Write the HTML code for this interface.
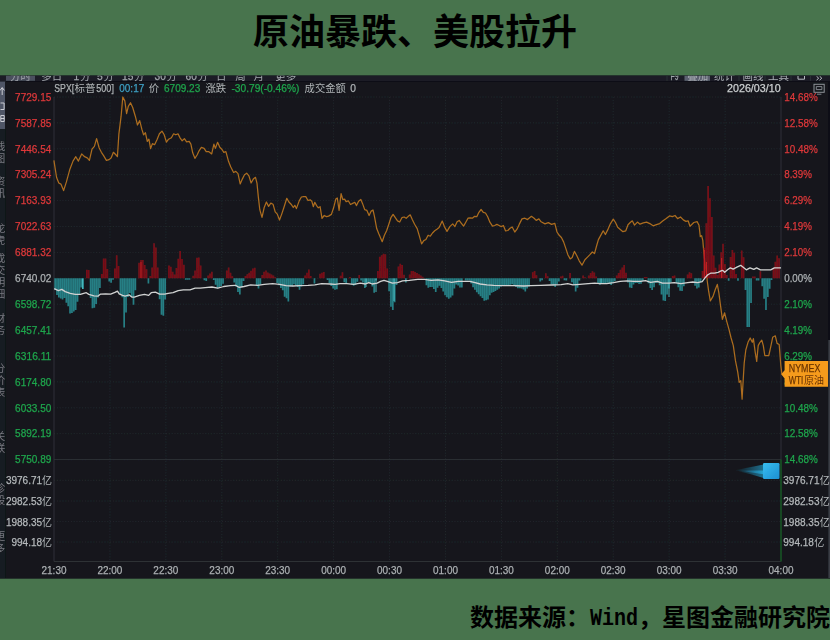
<!DOCTYPE html>
<html><head><meta charset="utf-8"><title>chart</title>
<style>html,body{margin:0;padding:0;background:#48744d}body{width:830px;height:640px;overflow:hidden}svg{display:block}text{font-family:"Liberation Sans","Noto Sans CJK SC",sans-serif}</style></head>
<body>
<svg width="830" height="640" viewBox="0 0 830 640">
<rect x="0" y="0" width="830" height="640" fill="#48744d"/>
<defs><filter id="soft" x="0" y="0" width="830" height="640" filterUnits="userSpaceOnUse"><feGaussianBlur stdDeviation="0.42"/></filter><clipPath id="chartclip"><rect x="0" y="75.6" width="830" height="502.8"/></clipPath></defs>
<rect x="0" y="75.6" width="830" height="502.8" fill="#14181d"/>
<g clip-path="url(#chartclip)"><g filter="url(#soft)">
<rect x="-5" y="70" width="840" height="515" fill="#14181d"/>
<rect x="0" y="75.6" width="830" height="5.6" fill="#1c1f26"/>
<rect x="6" y="75.6" width="29" height="5.2" fill="#4b505f"/>
<rect x="684.5" y="75.6" width="25.5" height="5.2" fill="#5b6170"/>
<rect x="0" y="81.2" width="830" height="0.8" fill="#0e1014"/>
<defs><clipPath id="cc"><rect x="0" y="75.6" width="830" height="6"/></clipPath></defs>
<g clip-path="url(#cc)">
<text x="9.9" y="79.8" fill="#a3a6ad" font-size="10.5" text-anchor="start">分时</text>
<text x="41.2" y="79.8" fill="#a3a6ad" font-size="10.5" text-anchor="start">多日</text>
<text x="73.5" y="79.8" fill="#a3a6ad" stroke="#a3a6ad" stroke-width="0.25" font-size="11" text-anchor="start" textLength="5.7" lengthAdjust="spacingAndGlyphs">1</text>
<text x="79.9" y="79.8" fill="#a3a6ad" font-size="10.5" text-anchor="start">分</text>
<text x="97.0" y="79.8" fill="#a3a6ad" stroke="#a3a6ad" stroke-width="0.25" font-size="11" text-anchor="start" textLength="5.7" lengthAdjust="spacingAndGlyphs">5</text>
<text x="103.4" y="79.8" fill="#a3a6ad" font-size="10.5" text-anchor="start">分</text>
<text x="122.0" y="79.8" fill="#a3a6ad" stroke="#a3a6ad" stroke-width="0.25" font-size="11" text-anchor="start" textLength="11.3" lengthAdjust="spacingAndGlyphs">15</text>
<text x="134.0" y="79.8" fill="#a3a6ad" font-size="10.5" text-anchor="start">分</text>
<text x="154.5" y="79.8" fill="#a3a6ad" stroke="#a3a6ad" stroke-width="0.25" font-size="11" text-anchor="start" textLength="11.3" lengthAdjust="spacingAndGlyphs">30</text>
<text x="166.5" y="79.8" fill="#a3a6ad" font-size="10.5" text-anchor="start">分</text>
<text x="185.5" y="79.8" fill="#a3a6ad" stroke="#a3a6ad" stroke-width="0.25" font-size="11" text-anchor="start" textLength="11.3" lengthAdjust="spacingAndGlyphs">60</text>
<text x="197.5" y="79.8" fill="#a3a6ad" font-size="10.5" text-anchor="start">分</text>
<text x="216.1" y="79.8" fill="#a3a6ad" font-size="10.5" text-anchor="start">日</text>
<text x="235.3" y="79.8" fill="#a3a6ad" font-size="10.5" text-anchor="start">周</text>
<text x="253.4" y="79.8" fill="#a3a6ad" font-size="10.5" text-anchor="start">月</text>
<text x="275.3" y="79.8" fill="#a3a6ad" font-size="10.5" text-anchor="start">更多</text>
<text x="670.5" y="79.8" fill="#a3a6ad" stroke="#a3a6ad" stroke-width="0.25" font-size="11" text-anchor="start" textLength="8.0" lengthAdjust="spacingAndGlyphs">F9</text>
<text x="687.2" y="79.8" fill="#a9acb3" font-size="10.5" text-anchor="start">叠加</text>
<text x="714.0" y="79.8" fill="#a9acb3" font-size="10.5" text-anchor="start">统计</text>
<text x="742.4" y="79.8" fill="#a9acb3" font-size="10.5" text-anchor="start">画线</text>
<text x="768.0" y="79.8" fill="#a9acb3" font-size="10.5" text-anchor="start">工具</text>
<path d="M798 76v3.2h6.5v-3.2M816.5 76.2l2.2 2-2.2 2M819.6 76.2l2.2 2-2.2 2" stroke="#b9bcc3" stroke-width="1" fill="none"/>
</g>
<path d="M667 76v4.8M739 76v4.8M765 76v4.8M791 76v4.8M810.5 76v4.8" stroke="#30333a" stroke-width="0.8" fill="none"/>
<rect x="0" y="82" width="5.3" height="496.3" fill="#181a20"/>
<rect x="0" y="81.5" width="5.3" height="47.5" fill="#505566"/>
<rect x="5.3" y="82" width="0.8" height="496.3" fill="#101216"/>
<path d="M0 90.5l2.2-3 2.2 3M2.2 88v7M0.5 103h3.6v6.5h-3.6M0.8 115.5h3.4v6h-3.4zM0.8 118.5h3.4" stroke="#dfe1e6" stroke-width="1" fill="none" opacity="0.85"/>
<defs><clipPath id="sbc"><rect x="0" y="82" width="5.2" height="496"/></clipPath></defs>
<g clip-path="url(#sbc)" opacity="0.7">
<text x="-5.3" y="150.0" fill="#9fa2a9" font-size="10.5" text-anchor="start">线</text>
<text x="-5.3" y="162.0" fill="#9fa2a9" font-size="10.5" text-anchor="start">图</text>
<text x="-5.3" y="185.0" fill="#9fa2a9" font-size="10.5" text-anchor="start">资</text>
<text x="-5.3" y="197.2" fill="#9fa2a9" font-size="10.5" text-anchor="start">讯</text>
<text x="-5.3" y="231.9" fill="#9fa2a9" font-size="10.5" text-anchor="start">龙</text>
<text x="-5.3" y="244.0" fill="#9fa2a9" font-size="10.5" text-anchor="start">虎</text>
<text x="-5.3" y="262.1" fill="#9fa2a9" font-size="10.5" text-anchor="start">成</text>
<text x="-5.3" y="274.0" fill="#9fa2a9" font-size="10.5" text-anchor="start">交</text>
<text x="-5.3" y="286.1" fill="#9fa2a9" font-size="10.5" text-anchor="start">明</text>
<text x="-5.3" y="297.9" fill="#9fa2a9" font-size="10.5" text-anchor="start">细</text>
<text x="-5.3" y="322.0" fill="#9fa2a9" font-size="10.5" text-anchor="start">财</text>
<text x="-5.3" y="334.0" fill="#9fa2a9" font-size="10.5" text-anchor="start">务</text>
<text x="-5.3" y="372.1" fill="#9fa2a9" font-size="10.5" text-anchor="start">分</text>
<text x="-5.3" y="384.1" fill="#9fa2a9" font-size="10.5" text-anchor="start">价</text>
<text x="-5.3" y="396.0" fill="#9fa2a9" font-size="10.5" text-anchor="start">表</text>
<text x="-5.3" y="440.0" fill="#9fa2a9" font-size="10.5" text-anchor="start">关</text>
<text x="-5.3" y="452.1" fill="#9fa2a9" font-size="10.5" text-anchor="start">联</text>
<text x="-5.3" y="492.0" fill="#9fa2a9" font-size="10.5" text-anchor="start">诊</text>
<text x="-5.3" y="504.0" fill="#9fa2a9" font-size="10.5" text-anchor="start">股</text>
<text x="-5.3" y="540.0" fill="#9fa2a9" font-size="10.5" text-anchor="start">更</text>
<text x="-5.3" y="552.0" fill="#9fa2a9" font-size="10.5" text-anchor="start">多</text>
</g>
<rect x="828.3" y="82" width="1.7" height="496" fill="#0d0f12"/>
<rect x="828.3" y="340" width="1.7" height="238" fill="#3a3d44"/>
<path d="M54.0 97.00H781.0M54.0 122.90H781.0M54.0 148.80H781.0M54.0 174.70H781.0M54.0 200.60H781.0M54.0 226.50H781.0M54.0 252.40H781.0M54.0 278.30H781.0M54.0 304.20H781.0M54.0 330.10H781.0M54.0 356.00H781.0M54.0 381.90H781.0M54.0 407.80H781.0M54.0 433.70H781.0M54.0 459.60H781.0M54.0 480.30H781.0M54.0 501.00H781.0M54.0 521.60H781.0M54.0 542.00H781.0" stroke="#23262c" stroke-width="1" stroke-dasharray="1.2 1.6" fill="none"/>
<path d="M109.92 97.0V561.5M165.85 97.0V561.5M221.77 97.0V561.5M277.69 97.0V561.5M333.62 97.0V561.5M389.54 97.0V561.5M445.46 97.0V561.5M501.38 97.0V561.5M557.31 97.0V561.5M613.23 97.0V561.5M669.15 97.0V561.5M725.08 97.0V561.5" stroke="#23262c" stroke-width="1" stroke-dasharray="1.2 1.6" fill="none"/>
<path d="M54.0 97.0V561.5M781.0 97.0V561.5M54.0 459.6H781.0M54.0 561.5H781.0" stroke="#2e3136" stroke-width="1" fill="none"/>
<path d="M781.0 459.6V561.5" stroke="#0f5f22" stroke-width="1.2" fill="none"/>
<polyline points="53.9,160.4 56.6,177.5 58.8,183.0 60.9,184.1 63.6,190.6 66.4,181.9 69.7,169.8 73.0,161.1 75.8,156.7 78.4,161.1 81.7,153.9 84.6,156.7 87.2,157.8 89.4,160.4 92.0,149.1 94.4,146.4 96.6,138.6 99.2,148.0 101.4,152.3 103.6,155.6 106.4,160.4 109.1,159.6 111.2,157.8 113.4,152.3 115.6,154.5 117.4,156.7 118.9,133.8 121.1,116.2 122.8,97.0 124.8,100.9 126.6,113.6 128.3,106.4 130.5,102.7 132.7,107.5 135.3,116.2 137.5,125.0 139.7,120.6 141.9,129.4 143.6,134.8 145.4,132.7 147.3,141.4 148.9,139.2 150.6,148.6 152.4,143.6 154.6,144.7 157.2,139.2 159.4,133.8 162.0,131.1 164.2,134.8 166.4,142.1 168.6,139.2 171.4,137.7 173.6,133.8 175.8,134.8 178.0,133.8 180.2,138.1 182.2,140.8 184.4,138.6 186.6,141.9 189.2,141.4 190.9,144.1 192.7,152.8 194.9,158.3 197.1,155.0 199.2,150.6 201.4,147.3 204.1,148.4 206.2,151.7 208.9,151.7 211.7,153.9 213.9,144.1 215.4,148.4 217.6,142.3 219.8,147.3 222.0,149.5 223.8,152.4 225.9,151.7 228.6,161.6 230.8,167.0 233.6,172.5 235.8,171.4 238.0,173.6 240.2,183.9 242.3,179.1 244.5,174.7 246.7,173.2 248.9,175.8 251.1,183.0 253.3,179.1 255.5,177.3 257.0,183.4 258.3,196.6 259.8,209.7 262.0,217.3 264.2,207.5 266.4,202.0 268.6,206.4 270.8,203.1 273.0,204.2 275.2,211.9 277.3,214.1 279.5,220.0 281.7,214.1 283.9,207.5 286.8,198.3 288.9,202.0 291.1,204.2 293.3,207.5 294.8,205.3 296.4,208.6 299.2,200.9 301.4,197.0 303.6,196.6 305.8,196.6 308.0,200.5 310.2,199.8 311.8,201.2 313.3,206.7 314.8,202.3 316.6,205.6 318.3,207.8 320.1,206.7 322.0,218.3 324.2,215.5 326.4,216.6 328.6,216.1 331.4,214.4 333.6,207.8 335.8,199.1 337.3,198.0 339.1,210.4 341.1,193.6 342.8,199.5 344.6,199.1 346.1,201.7 348.3,200.8 350.5,204.5 352.7,203.4 354.8,202.3 356.4,205.6 358.6,201.2 360.8,199.5 362.5,203.4 364.7,209.6 366.9,210.4 369.1,215.5 371.2,211.1 373.0,210.0 374.5,216.6 376.7,228.6 378.9,234.1 382.2,241.7 384.4,235.2 386.6,230.8 388.8,224.2 390.9,217.7 393.1,214.4 395.3,217.7 397.5,220.9 399.7,222.0 401.9,217.7 404.1,217.0 406.2,218.3 408.0,216.6 410.2,214.8 412.4,219.8 414.6,224.2 417.2,228.6 419.4,236.2 421.6,243.9 423.8,240.6 425.9,239.5 428.1,235.2 430.3,236.2 432.5,233.0 434.7,230.8 436.9,229.2 439.1,227.5 442.2,221.1 444.4,226.6 447.0,231.4 449.8,226.6 452.7,223.9 454.9,226.6 457.1,221.8 459.2,220.4 461.4,223.3 463.6,226.1 465.8,222.2 468.0,218.2 470.2,217.8 472.4,218.2 474.6,216.3 476.8,216.7 478.9,212.3 481.1,209.5 483.3,212.3 485.5,213.0 487.7,216.7 489.9,222.2 492.5,226.1 494.7,225.5 496.9,224.4 499.1,225.5 501.2,226.6 503.4,225.5 505.6,230.9 507.8,230.5 510.0,228.3 512.2,227.0 514.8,232.0 517.0,229.2 519.2,224.4 522.0,218.9 524.9,218.2 527.5,219.6 531.4,216.3 534.1,218.2 536.2,220.4 538.9,218.9 541.1,221.8 545.0,223.9 548.3,222.6 551.6,224.4 554.8,223.3 557.0,232.0 559.2,235.3 561.4,237.5 563.6,241.9 565.8,248.4 568.0,255.0 570.2,258.9 572.2,257.5 574.4,251.4 576.6,255.3 579.2,260.8 582.0,265.2 584.9,259.7 587.5,257.1 589.7,254.9 592.3,252.0 594.5,253.6 596.7,245.5 598.4,239.6 600.6,235.6 603.2,230.8 605.4,234.5 608.3,228.6 610.5,223.6 613.3,219.2 615.5,222.5 617.7,227.3 620.3,229.5 622.9,231.7 625.8,230.8 628.0,224.7 630.2,222.5 632.3,220.8 634.5,225.1 637.4,222.1 640.0,224.2 643.3,222.9 646.6,222.1 649.8,223.6 653.1,225.8 656.4,224.7 659.7,223.6 663.0,220.8 666.2,218.6 669.5,215.9 672.4,216.6 675.0,215.5 677.6,218.6 680.5,217.0 683.3,219.9 685.9,221.4 688.1,220.8 690.0,226.3 693.8,222.5 697.1,221.6 699.0,225.3 700.3,236.6 701.6,235.7 702.8,240.4 703.5,248.8 704.6,260.1 705.9,269.4 707.3,276.9 707.1,280.0 708.6,290.9 710.3,300.8 713.0,296.4 715.2,289.8 717.3,284.4 718.9,293.1 720.6,306.2 722.4,319.4 724.6,312.8 726.8,321.6 728.9,329.2 731.1,338.0 733.3,345.6 735.5,360.9 737.7,371.9 739.2,382.4 740.8,380.6 742.1,399.2 742.9,385.0 744.2,363.1 745.8,350.0 748.0,342.3 750.2,338.0 752.3,342.3 753.4,338.6 755.2,352.2 756.7,361.4 758.2,345.6 760.0,342.3 761.8,340.2 763.3,345.6 764.8,355.5 767.0,355.5 768.8,355.5 770.5,347.8 772.7,337.3 775.3,335.8 777.1,343.4 779.2,344.5 780.8,365.3 781.9,374.1" fill="none" stroke="#ad6c20" stroke-width="1.25" stroke-linejoin="round"/>
<path d="M54.28 278.3V289.9h1.71V278.3zM56.15 278.3V295.0h1.71V278.3zM58.01 278.3V297.5h1.71V278.3zM59.88 278.3V298.6h1.71V278.3zM61.74 278.3V299.6h1.71V278.3zM63.61 278.3V298.1h1.71V278.3zM65.47 278.3V302.7h1.71V278.3zM67.34 278.3V306.3h1.71V278.3zM69.21 278.3V313.4h1.71V278.3zM71.07 278.3V312.9h1.71V278.3zM72.94 278.3V311.6h1.71V278.3zM74.80 278.3V309.9h1.71V278.3zM76.67 278.3V301.8h1.71V278.3zM78.53 278.3V294.3h1.71V278.3zM80.40 278.3V287.5h1.71V278.3zM82.27 278.3V288.9h1.71V278.3zM89.73 278.3V298.1h1.71V278.3zM91.59 278.3V308.3h1.71V278.3zM93.46 278.3V307.7h1.71V278.3zM95.33 278.3V303.9h1.71V278.3zM97.19 278.3V297.6h1.71V278.3zM99.06 278.3V288.0h1.71V278.3zM108.39 278.3V281.6h1.71V278.3zM110.25 278.3V282.8h1.71V278.3zM112.12 278.3V279.8h1.71V278.3zM119.58 278.3V294.5h1.71V278.3zM121.45 278.3V297.3h1.71V278.3zM123.31 278.3V327.5h1.71V278.3zM125.18 278.3V312.4h1.71V278.3zM127.04 278.3V296.9h1.71V278.3zM128.91 278.3V293.1h1.71V278.3zM130.77 278.3V296.9h1.71V278.3zM132.64 278.3V304.7h1.71V278.3zM134.51 278.3V290.2h1.71V278.3zM147.57 278.3V283.6h1.71V278.3zM158.76 278.3V299.2h1.71V278.3zM160.62 278.3V314.7h1.71V278.3zM162.49 278.3V315.7h1.71V278.3zM164.36 278.3V299.4h1.71V278.3zM184.88 278.3V279.8h1.71V278.3zM186.74 278.3V279.8h1.71V278.3zM188.61 278.3V279.8h1.71V278.3zM203.54 278.3V280.2h1.71V278.3zM205.40 278.3V281.1h1.71V278.3zM212.86 278.3V280.0h1.71V278.3zM214.73 278.3V284.7h1.71V278.3zM216.60 278.3V288.5h1.71V278.3zM218.46 278.3V286.9h1.71V278.3zM220.33 278.3V286.0h1.71V278.3zM222.19 278.3V283.7h1.71V278.3zM233.39 278.3V282.4h1.71V278.3zM235.25 278.3V286.7h1.71V278.3zM237.12 278.3V292.1h1.71V278.3zM238.98 278.3V294.6h1.71V278.3zM240.85 278.3V287.4h1.71V278.3zM242.72 278.3V281.0h1.71V278.3zM255.78 278.3V285.7h1.71V278.3zM257.64 278.3V288.5h1.71V278.3zM259.51 278.3V284.5h1.71V278.3zM276.30 278.3V283.0h1.71V278.3zM278.16 278.3V285.3h1.71V278.3zM280.03 278.3V288.1h1.71V278.3zM281.90 278.3V290.3h1.71V278.3zM283.76 278.3V296.8h1.71V278.3zM285.63 278.3V298.3h1.71V278.3zM287.49 278.3V301.6h1.71V278.3zM289.36 278.3V286.5h1.71V278.3zM291.22 278.3V286.3h1.71V278.3zM293.09 278.3V284.3h1.71V278.3zM294.96 278.3V285.2h1.71V278.3zM296.82 278.3V287.1h1.71V278.3zM298.69 278.3V289.7h1.71V278.3zM300.55 278.3V286.4h1.71V278.3zM302.42 278.3V284.3h1.71V278.3zM313.61 278.3V283.6h1.71V278.3zM326.67 278.3V279.9h1.71V278.3zM328.54 278.3V283.0h1.71V278.3zM330.40 278.3V286.1h1.71V278.3zM332.27 278.3V288.6h1.71V278.3zM334.13 278.3V289.8h1.71V278.3zM336.00 278.3V289.3h1.71V278.3zM343.46 278.3V282.3h1.71V278.3zM345.33 278.3V283.4h1.71V278.3zM350.93 278.3V284.4h1.71V278.3zM352.79 278.3V285.7h1.71V278.3zM354.66 278.3V285.0h1.71V278.3zM356.52 278.3V281.7h1.71V278.3zM360.25 278.3V280.6h1.71V278.3zM362.12 278.3V282.4h1.71V278.3zM363.99 278.3V288.0h1.71V278.3zM365.85 278.3V283.7h1.71V278.3zM367.72 278.3V282.4h1.71V278.3zM369.58 278.3V283.9h1.71V278.3zM371.45 278.3V286.4h1.71V278.3zM373.31 278.3V292.8h1.71V278.3zM375.18 278.3V280.6h1.71V278.3zM388.24 278.3V291.2h1.71V278.3zM390.11 278.3V306.7h1.71V278.3zM391.97 278.3V310.1h1.71V278.3zM393.84 278.3V302.2h1.71V278.3zM395.70 278.3V284.9h1.71V278.3zM405.03 278.3V282.5h1.71V278.3zM425.55 278.3V285.3h1.71V278.3zM427.42 278.3V287.7h1.71V278.3zM429.29 278.3V287.1h1.71V278.3zM431.15 278.3V286.9h1.71V278.3zM433.02 278.3V288.9h1.71V278.3zM434.88 278.3V291.9h1.71V278.3zM436.75 278.3V287.7h1.71V278.3zM438.61 278.3V285.8h1.71V278.3zM440.48 278.3V287.9h1.71V278.3zM442.35 278.3V291.4h1.71V278.3zM444.21 278.3V295.3h1.71V278.3zM446.08 278.3V297.2h1.71V278.3zM447.94 278.3V298.7h1.71V278.3zM449.81 278.3V297.4h1.71V278.3zM451.67 278.3V295.5h1.71V278.3zM453.54 278.3V288.6h1.71V278.3zM455.41 278.3V284.5h1.71V278.3zM457.27 278.3V285.6h1.71V278.3zM459.14 278.3V287.5h1.71V278.3zM461.00 278.3V287.6h1.71V278.3zM464.73 278.3V280.6h1.71V278.3zM466.60 278.3V280.6h1.71V278.3zM468.47 278.3V280.6h1.71V278.3zM470.33 278.3V283.4h1.71V278.3zM472.20 278.3V287.2h1.71V278.3zM474.06 278.3V289.7h1.71V278.3zM475.93 278.3V292.2h1.71V278.3zM477.79 278.3V294.3h1.71V278.3zM479.66 278.3V296.2h1.71V278.3zM481.53 278.3V298.0h1.71V278.3zM483.39 278.3V300.7h1.71V278.3zM485.26 278.3V300.3h1.71V278.3zM487.12 278.3V299.5h1.71V278.3zM488.99 278.3V295.2h1.71V278.3zM490.85 278.3V292.7h1.71V278.3zM492.72 278.3V291.9h1.71V278.3zM494.59 278.3V290.9h1.71V278.3zM496.45 278.3V289.7h1.71V278.3zM498.32 278.3V288.4h1.71V278.3zM500.18 278.3V286.7h1.71V278.3zM502.05 278.3V285.9h1.71V278.3zM503.91 278.3V285.6h1.71V278.3zM505.78 278.3V285.4h1.71V278.3zM507.65 278.3V285.1h1.71V278.3zM509.51 278.3V284.8h1.71V278.3zM511.38 278.3V284.2h1.71V278.3zM513.24 278.3V285.1h1.71V278.3zM515.11 278.3V286.9h1.71V278.3zM516.97 278.3V288.2h1.71V278.3zM518.84 278.3V288.2h1.71V278.3zM520.71 278.3V288.5h1.71V278.3zM522.57 278.3V289.4h1.71V278.3zM524.44 278.3V291.5h1.71V278.3zM526.30 278.3V288.5h1.71V278.3zM528.17 278.3V286.5h1.71V278.3zM539.36 278.3V281.6h1.71V278.3zM541.23 278.3V280.3h1.71V278.3zM548.69 278.3V281.1h1.71V278.3zM550.56 278.3V284.3h1.71V278.3zM552.42 278.3V285.5h1.71V278.3zM554.29 278.3V287.0h1.71V278.3zM556.15 278.3V284.6h1.71V278.3zM558.02 278.3V281.5h1.71V278.3zM563.62 278.3V280.3h1.71V278.3zM565.48 278.3V280.5h1.71V278.3zM571.08 278.3V282.3h1.71V278.3zM572.94 278.3V285.0h1.71V278.3zM574.81 278.3V291.6h1.71V278.3zM576.68 278.3V287.8h1.71V278.3zM578.54 278.3V280.5h1.71V278.3zM597.20 278.3V283.0h1.71V278.3zM599.06 278.3V284.8h1.71V278.3zM600.93 278.3V283.6h1.71V278.3zM602.80 278.3V283.4h1.71V278.3zM604.66 278.3V283.4h1.71V278.3zM606.53 278.3V282.7h1.71V278.3zM608.39 278.3V283.6h1.71V278.3zM610.26 278.3V284.9h1.71V278.3zM612.12 278.3V283.2h1.71V278.3zM613.99 278.3V281.0h1.71V278.3zM627.05 278.3V282.5h1.71V278.3zM628.92 278.3V287.4h1.71V278.3zM630.78 278.3V288.1h1.71V278.3zM632.65 278.3V284.6h1.71V278.3zM634.51 278.3V282.9h1.71V278.3zM636.38 278.3V282.9h1.71V278.3zM638.24 278.3V283.9h1.71V278.3zM640.11 278.3V283.7h1.71V278.3zM641.98 278.3V280.9h1.71V278.3zM647.57 278.3V283.3h1.71V278.3zM649.44 278.3V288.1h1.71V278.3zM651.30 278.3V290.1h1.71V278.3zM653.17 278.3V287.2h1.71V278.3zM655.04 278.3V283.1h1.71V278.3zM656.90 278.3V282.7h1.71V278.3zM658.77 278.3V285.2h1.71V278.3zM660.63 278.3V294.5h1.71V278.3zM662.50 278.3V300.4h1.71V278.3zM664.36 278.3V301.0h1.71V278.3zM666.23 278.3V294.6h1.71V278.3zM668.10 278.3V288.4h1.71V278.3zM669.96 278.3V282.6h1.71V278.3zM675.56 278.3V283.3h1.71V278.3zM677.42 278.3V287.2h1.71V278.3zM679.29 278.3V290.7h1.71V278.3zM681.16 278.3V291.0h1.71V278.3zM683.02 278.3V286.2h1.71V278.3zM694.22 278.3V285.7h1.71V278.3zM696.08 278.3V288.5h1.71V278.3zM697.95 278.3V287.5h1.71V278.3zM699.81 278.3V282.2h1.71V278.3zM727.80 278.3V280.7h1.71V278.3zM737.13 278.3V280.7h1.71V278.3zM744.59 278.3V290.0h1.71V278.3zM746.45 278.3V326.9h1.71V278.3zM748.32 278.3V326.9h1.71V278.3zM750.19 278.3V303.1h1.71V278.3zM755.78 278.3V280.6h1.71V278.3zM757.65 278.3V280.6h1.71V278.3zM761.38 278.3V286.2h1.71V278.3zM763.25 278.3V298.8h1.71V278.3zM765.11 278.3V310.0h1.71V278.3zM766.98 278.3V296.9h1.71V278.3zM768.84 278.3V288.8h1.71V278.3zM770.71 278.3V280.0h1.71V278.3z" fill="#277f85"/>
<path d="M86.00 278.3V269.8h1.71V278.3zM87.86 278.3V270.0h1.71V278.3zM100.92 278.3V274.1h1.71V278.3zM102.79 278.3V258.6h1.71V278.3zM104.65 278.3V258.4h1.71V278.3zM106.52 278.3V269.0h1.71V278.3zM113.98 278.3V268.4h1.71V278.3zM115.85 278.3V255.3h1.71V278.3zM117.71 278.3V265.9h1.71V278.3zM138.24 278.3V262.8h1.71V278.3zM140.10 278.3V260.1h1.71V278.3zM141.97 278.3V260.0h1.71V278.3zM143.83 278.3V265.1h1.71V278.3zM145.70 278.3V269.2h1.71V278.3zM149.43 278.3V275.9h1.71V278.3zM151.30 278.3V267.6h1.71V278.3zM153.16 278.3V243.3h1.71V278.3zM155.03 278.3V247.6h1.71V278.3zM156.89 278.3V267.4h1.71V278.3zM168.09 278.3V265.5h1.71V278.3zM169.95 278.3V266.7h1.71V278.3zM171.82 278.3V271.7h1.71V278.3zM173.68 278.3V274.6h1.71V278.3zM175.55 278.3V267.9h1.71V278.3zM177.42 278.3V258.7h1.71V278.3zM179.28 278.3V251.1h1.71V278.3zM181.15 278.3V259.1h1.71V278.3zM183.01 278.3V264.8h1.71V278.3zM192.34 278.3V275.7h1.71V278.3zM194.21 278.3V270.5h1.71V278.3zM196.07 278.3V257.8h1.71V278.3zM197.94 278.3V257.5h1.71V278.3zM199.80 278.3V265.5h1.71V278.3zM207.27 278.3V275.5h1.71V278.3zM209.13 278.3V273.6h1.71V278.3zM211.00 278.3V271.7h1.71V278.3zM225.92 278.3V270.5h1.71V278.3zM227.79 278.3V267.4h1.71V278.3zM229.66 278.3V272.7h1.71V278.3zM231.52 278.3V276.3h1.71V278.3zM244.58 278.3V275.9h1.71V278.3zM246.45 278.3V274.2h1.71V278.3zM248.31 278.3V272.7h1.71V278.3zM250.18 278.3V270.8h1.71V278.3zM252.04 278.3V268.4h1.71V278.3zM253.91 278.3V267.8h1.71V278.3zM261.37 278.3V275.0h1.71V278.3zM263.24 278.3V271.7h1.71V278.3zM265.10 278.3V270.5h1.71V278.3zM266.97 278.3V272.4h1.71V278.3zM268.84 278.3V273.6h1.71V278.3zM270.70 278.3V274.5h1.71V278.3zM272.57 278.3V275.5h1.71V278.3zM274.43 278.3V277.2h1.71V278.3zM304.28 278.3V275.4h1.71V278.3zM306.15 278.3V272.8h1.71V278.3zM308.02 278.3V269.5h1.71V278.3zM309.88 278.3V275.9h1.71V278.3zM319.21 278.3V273.7h1.71V278.3zM321.08 278.3V272.8h1.71V278.3zM322.94 278.3V272.0h1.71V278.3zM339.73 278.3V275.8h1.71V278.3zM341.60 278.3V272.3h1.71V278.3zM349.06 278.3V276.9h1.71V278.3zM358.39 278.3V274.9h1.71V278.3zM377.05 278.3V271.0h1.71V278.3zM378.91 278.3V256.7h1.71V278.3zM380.78 278.3V255.2h1.71V278.3zM382.64 278.3V253.7h1.71V278.3zM384.51 278.3V254.2h1.71V278.3zM386.37 278.3V268.4h1.71V278.3zM397.57 278.3V266.6h1.71V278.3zM399.43 278.3V263.8h1.71V278.3zM401.30 278.3V265.0h1.71V278.3zM403.17 278.3V274.7h1.71V278.3zM408.76 278.3V274.4h1.71V278.3zM410.63 278.3V271.0h1.71V278.3zM412.49 278.3V270.9h1.71V278.3zM414.36 278.3V271.9h1.71V278.3zM416.23 278.3V273.1h1.71V278.3zM418.09 278.3V274.3h1.71V278.3zM419.96 278.3V275.6h1.71V278.3zM421.82 278.3V276.8h1.71V278.3zM531.90 278.3V272.2h1.71V278.3zM533.76 278.3V271.0h1.71V278.3zM535.63 278.3V275.3h1.71V278.3zM544.96 278.3V273.2h1.71V278.3zM546.82 278.3V276.3h1.71V278.3zM559.88 278.3V276.6h1.71V278.3zM561.75 278.3V275.8h1.71V278.3zM569.21 278.3V273.0h1.71V278.3zM582.27 278.3V275.4h1.71V278.3zM584.14 278.3V277.2h1.71V278.3zM587.87 278.3V275.5h1.71V278.3zM589.74 278.3V273.0h1.71V278.3zM591.60 278.3V271.3h1.71V278.3zM593.47 278.3V272.4h1.71V278.3zM595.33 278.3V276.4h1.71V278.3zM615.86 278.3V275.4h1.71V278.3zM617.72 278.3V273.0h1.71V278.3zM619.59 278.3V269.8h1.71V278.3zM621.45 278.3V267.4h1.71V278.3zM623.32 278.3V265.0h1.71V278.3zM625.18 278.3V272.7h1.71V278.3zM643.84 278.3V276.9h1.71V278.3zM645.71 278.3V276.9h1.71V278.3zM671.83 278.3V276.1h1.71V278.3zM673.69 278.3V275.5h1.71V278.3zM686.75 278.3V274.5h1.71V278.3zM688.62 278.3V272.3h1.71V278.3zM690.48 278.3V273.3h1.71V278.3zM701.68 278.3V271.1h1.71V278.3zM703.54 278.3V247.7h1.71V278.3zM705.41 278.3V223.3h1.71V278.3zM707.28 278.3V186.1h1.71V278.3zM709.14 278.3V198.3h1.71V278.3zM711.01 278.3V217.1h1.71V278.3zM712.87 278.3V255.5h1.71V278.3zM714.74 278.3V267.7h1.71V278.3zM716.60 278.3V275.1h1.71V278.3zM718.47 278.3V264.5h1.71V278.3zM720.33 278.3V252.3h1.71V278.3zM722.20 278.3V243.8h1.71V278.3zM724.07 278.3V264.0h1.71V278.3zM725.93 278.3V275.1h1.71V278.3zM729.66 278.3V257.0h1.71V278.3zM731.53 278.3V249.9h1.71V278.3zM733.39 278.3V252.8h1.71V278.3zM735.26 278.3V274.1h1.71V278.3zM740.86 278.3V250.5h1.71V278.3zM742.72 278.3V257.3h1.71V278.3zM752.05 278.3V276.6h1.71V278.3zM753.92 278.3V276.6h1.71V278.3zM759.51 278.3V271.3h1.71V278.3zM772.57 278.3V267.4h1.71V278.3zM774.44 278.3V261.8h1.71V278.3zM776.31 278.3V255.5h1.71V278.3zM778.17 278.3V258.3h1.71V278.3z" fill="#84111a" opacity="0.9"/>
<path d="M82.6 278.5V289M366 278.5V287M376 278.5V292M394 278.5V301M601 278.5V284M669 278.5V297" stroke="#55d3da" stroke-width="1" opacity="0.8" fill="none"/>
<path d="M141 278V262M704.3 278V250M706.4 278V262M721.7 278V258" stroke="#e02225" stroke-width="1" opacity="0.8" fill="none"/>
<polyline points="54.2,288.7 58.4,290.7 61.8,289.4 65.2,291.6 70.2,293.3 75.3,294.4 80.4,294.4 83.7,293.3 86.3,292.7 88.8,294.4 93.9,295.8 98.1,296.1 100.6,294.1 105.7,293.8 110.7,294.1 114.9,292.4 117.5,291.1 119.2,293.8 122.5,295.4 125.1,296.1 129.3,294.9 131.8,297.1 134.3,297.1 139.4,295.4 144.5,294.4 148.7,295.4 151.2,292.7 155.4,292.1 159.6,294.1 164.7,294.1 168.1,293.3 173.1,292.7 178.2,290.7 183.3,289.9 190.0,289.9 195.1,288.2 200.1,288.2 205.2,287.7 211.9,287.0 217.8,288.2 223.7,286.5 230.5,285.7 235.5,285.3 238.9,287.3 244.0,286.5 250.7,284.8 257.5,285.3 264.2,284.3 272.7,283.6 279.4,284.3 286.1,285.7 292.9,286.0 299.6,285.7 308.1,285.3 314.8,284.8 321.6,283.6 330.0,284.0 335.1,284.3 340.1,283.6 346.9,283.6 353.6,284.3 360.4,283.1 365.4,284.0 368.8,282.6 372.2,284.0 377.2,283.1 380.6,281.4 384.0,280.3 387.3,281.4 392.4,283.1 397.5,282.6 402.5,280.9 409.3,280.3 417.7,279.3 424.5,279.3 431.2,280.3 438.0,279.8 444.7,280.9 451.4,282.3 458.2,281.4 464.9,281.4 470.0,281.4 475.1,282.6 480.1,284.0 486.9,284.8 493.6,285.3 503.7,285.7 513.9,285.7 524.0,286.0 530.7,285.7 540.8,285.3 551.0,285.0 561.1,284.7 567.8,283.6 572.9,284.8 579.6,284.3 588.1,283.6 594.8,283.1 600.0,283.6 606.7,283.6 613.5,282.6 620.2,281.4 627.0,280.9 633.7,281.4 640.5,281.4 645.5,280.6 650.6,282.3 657.3,281.4 662.4,283.1 669.2,283.1 674.2,282.6 681.0,283.6 687.7,282.6 692.8,282.0 697.5,282.6 702.2,281.6 705.0,277.9 707.8,274.7 710.6,273.2 714.4,273.2 718.1,272.3 721.0,270.9 722.8,270.4 724.7,272.3 727.5,269.8 730.3,267.9 733.2,269.1 736.9,267.2 740.7,265.3 743.5,267.6 746.3,269.8 750.0,267.9 753.8,269.4 756.6,267.9 760.4,269.8 765.0,269.8 770.7,269.8 774.4,267.9 781.0,267.9" fill="none" stroke="#d2d2d2" stroke-width="1.3" stroke-linejoin="round"/>
<text x="51.3" y="100.7" fill="#e0383a" stroke="#e0383a" stroke-width="0.25" font-size="11" text-anchor="end" textLength="36.2" lengthAdjust="spacingAndGlyphs">7729.15</text>
<text x="784.2" y="100.7" fill="#e0383a" stroke="#e0383a" stroke-width="0.25" font-size="11" text-anchor="start" textLength="33.5" lengthAdjust="spacingAndGlyphs">14.68%</text>
<text x="51.3" y="126.6" fill="#e0383a" stroke="#e0383a" stroke-width="0.25" font-size="11" text-anchor="end" textLength="36.2" lengthAdjust="spacingAndGlyphs">7587.85</text>
<text x="784.2" y="126.6" fill="#e0383a" stroke="#e0383a" stroke-width="0.25" font-size="11" text-anchor="start" textLength="33.5" lengthAdjust="spacingAndGlyphs">12.58%</text>
<text x="51.3" y="152.5" fill="#e0383a" stroke="#e0383a" stroke-width="0.25" font-size="11" text-anchor="end" textLength="36.2" lengthAdjust="spacingAndGlyphs">7446.54</text>
<text x="784.2" y="152.5" fill="#e0383a" stroke="#e0383a" stroke-width="0.25" font-size="11" text-anchor="start" textLength="33.5" lengthAdjust="spacingAndGlyphs">10.48%</text>
<text x="51.3" y="178.4" fill="#e0383a" stroke="#e0383a" stroke-width="0.25" font-size="11" text-anchor="end" textLength="36.2" lengthAdjust="spacingAndGlyphs">7305.24</text>
<text x="784.2" y="178.4" fill="#e0383a" stroke="#e0383a" stroke-width="0.25" font-size="11" text-anchor="start" textLength="27.8" lengthAdjust="spacingAndGlyphs">8.39%</text>
<text x="51.3" y="204.3" fill="#e0383a" stroke="#e0383a" stroke-width="0.25" font-size="11" text-anchor="end" textLength="36.2" lengthAdjust="spacingAndGlyphs">7163.93</text>
<text x="784.2" y="204.3" fill="#e0383a" stroke="#e0383a" stroke-width="0.25" font-size="11" text-anchor="start" textLength="27.8" lengthAdjust="spacingAndGlyphs">6.29%</text>
<text x="51.3" y="230.2" fill="#e0383a" stroke="#e0383a" stroke-width="0.25" font-size="11" text-anchor="end" textLength="36.2" lengthAdjust="spacingAndGlyphs">7022.63</text>
<text x="784.2" y="230.2" fill="#e0383a" stroke="#e0383a" stroke-width="0.25" font-size="11" text-anchor="start" textLength="27.8" lengthAdjust="spacingAndGlyphs">4.19%</text>
<text x="51.3" y="256.1" fill="#e0383a" stroke="#e0383a" stroke-width="0.25" font-size="11" text-anchor="end" textLength="36.2" lengthAdjust="spacingAndGlyphs">6881.32</text>
<text x="784.2" y="256.1" fill="#e0383a" stroke="#e0383a" stroke-width="0.25" font-size="11" text-anchor="start" textLength="27.8" lengthAdjust="spacingAndGlyphs">2.10%</text>
<text x="51.3" y="282.0" fill="#b0b2b5" stroke="#b0b2b5" stroke-width="0.25" font-size="11" text-anchor="end" textLength="36.2" lengthAdjust="spacingAndGlyphs">6740.02</text>
<text x="784.2" y="282.0" fill="#b0b2b5" stroke="#b0b2b5" stroke-width="0.25" font-size="11" text-anchor="start" textLength="27.8" lengthAdjust="spacingAndGlyphs">0.00%</text>
<text x="51.3" y="307.9" fill="#20a64c" stroke="#20a64c" stroke-width="0.25" font-size="11" text-anchor="end" textLength="36.2" lengthAdjust="spacingAndGlyphs">6598.72</text>
<text x="784.2" y="307.9" fill="#20a64c" stroke="#20a64c" stroke-width="0.25" font-size="11" text-anchor="start" textLength="27.8" lengthAdjust="spacingAndGlyphs">2.10%</text>
<text x="51.3" y="333.8" fill="#20a64c" stroke="#20a64c" stroke-width="0.25" font-size="11" text-anchor="end" textLength="36.2" lengthAdjust="spacingAndGlyphs">6457.41</text>
<text x="784.2" y="333.8" fill="#20a64c" stroke="#20a64c" stroke-width="0.25" font-size="11" text-anchor="start" textLength="27.8" lengthAdjust="spacingAndGlyphs">4.19%</text>
<text x="51.3" y="359.7" fill="#20a64c" stroke="#20a64c" stroke-width="0.25" font-size="11" text-anchor="end" textLength="36.2" lengthAdjust="spacingAndGlyphs">6316.11</text>
<text x="784.2" y="359.7" fill="#20a64c" stroke="#20a64c" stroke-width="0.25" font-size="11" text-anchor="start" textLength="27.8" lengthAdjust="spacingAndGlyphs">6.29%</text>
<text x="51.3" y="385.6" fill="#20a64c" stroke="#20a64c" stroke-width="0.25" font-size="11" text-anchor="end" textLength="36.2" lengthAdjust="spacingAndGlyphs">6174.80</text>
<text x="784.2" y="385.6" fill="#20a64c" stroke="#20a64c" stroke-width="0.25" font-size="11" text-anchor="start" textLength="27.8" lengthAdjust="spacingAndGlyphs">8.39%</text>
<text x="51.3" y="411.5" fill="#20a64c" stroke="#20a64c" stroke-width="0.25" font-size="11" text-anchor="end" textLength="36.2" lengthAdjust="spacingAndGlyphs">6033.50</text>
<text x="784.2" y="411.5" fill="#20a64c" stroke="#20a64c" stroke-width="0.25" font-size="11" text-anchor="start" textLength="33.5" lengthAdjust="spacingAndGlyphs">10.48%</text>
<text x="51.3" y="437.4" fill="#20a64c" stroke="#20a64c" stroke-width="0.25" font-size="11" text-anchor="end" textLength="36.2" lengthAdjust="spacingAndGlyphs">5892.19</text>
<text x="784.2" y="437.4" fill="#20a64c" stroke="#20a64c" stroke-width="0.25" font-size="11" text-anchor="start" textLength="33.5" lengthAdjust="spacingAndGlyphs">12.58%</text>
<text x="51.3" y="463.3" fill="#20a64c" stroke="#20a64c" stroke-width="0.25" font-size="11" text-anchor="end" textLength="36.2" lengthAdjust="spacingAndGlyphs">5750.89</text>
<text x="784.2" y="463.3" fill="#20a64c" stroke="#20a64c" stroke-width="0.25" font-size="11" text-anchor="start" textLength="33.5" lengthAdjust="spacingAndGlyphs">14.68%</text>
<text x="42.1" y="484.3" fill="#b6b8bb" stroke="#b6b8bb" stroke-width="0.25" font-size="11" text-anchor="end" textLength="36.2" lengthAdjust="spacingAndGlyphs">3976.71</text>
<text x="42.0" y="484.3" fill="#b6b8bb" font-size="10" text-anchor="start">亿</text>
<text x="783.3" y="484.3" fill="#b6b8bb" stroke="#b6b8bb" stroke-width="0.25" font-size="11" text-anchor="start" textLength="36.2" lengthAdjust="spacingAndGlyphs">3976.71</text>
<text x="819.8" y="484.3" fill="#b6b8bb" font-size="10" text-anchor="start">亿</text>
<text x="42.1" y="505.0" fill="#b6b8bb" stroke="#b6b8bb" stroke-width="0.25" font-size="11" text-anchor="end" textLength="36.2" lengthAdjust="spacingAndGlyphs">2982.53</text>
<text x="42.0" y="505.0" fill="#b6b8bb" font-size="10" text-anchor="start">亿</text>
<text x="783.3" y="505.0" fill="#b6b8bb" stroke="#b6b8bb" stroke-width="0.25" font-size="11" text-anchor="start" textLength="36.2" lengthAdjust="spacingAndGlyphs">2982.53</text>
<text x="819.8" y="505.0" fill="#b6b8bb" font-size="10" text-anchor="start">亿</text>
<text x="42.1" y="525.6" fill="#b6b8bb" stroke="#b6b8bb" stroke-width="0.25" font-size="11" text-anchor="end" textLength="36.2" lengthAdjust="spacingAndGlyphs">1988.35</text>
<text x="42.0" y="525.6" fill="#b6b8bb" font-size="10" text-anchor="start">亿</text>
<text x="783.3" y="525.6" fill="#b6b8bb" stroke="#b6b8bb" stroke-width="0.25" font-size="11" text-anchor="start" textLength="36.2" lengthAdjust="spacingAndGlyphs">1988.35</text>
<text x="819.8" y="525.6" fill="#b6b8bb" font-size="10" text-anchor="start">亿</text>
<text x="42.1" y="546.0" fill="#b6b8bb" stroke="#b6b8bb" stroke-width="0.25" font-size="11" text-anchor="end" textLength="30.6" lengthAdjust="spacingAndGlyphs">994.18</text>
<text x="42.0" y="546.0" fill="#b6b8bb" font-size="10" text-anchor="start">亿</text>
<text x="783.3" y="546.0" fill="#b6b8bb" stroke="#b6b8bb" stroke-width="0.25" font-size="11" text-anchor="start" textLength="30.6" lengthAdjust="spacingAndGlyphs">994.18</text>
<text x="814.2" y="546.0" fill="#b6b8bb" font-size="10" text-anchor="start">亿</text>
<text x="54.0" y="573.7" fill="#aeb0b3" stroke="#aeb0b3" stroke-width="0.25" font-size="11" text-anchor="middle" textLength="24.9" lengthAdjust="spacingAndGlyphs">21:30</text>
<text x="109.9" y="573.7" fill="#aeb0b3" stroke="#aeb0b3" stroke-width="0.25" font-size="11" text-anchor="middle" textLength="24.9" lengthAdjust="spacingAndGlyphs">22:00</text>
<text x="165.8" y="573.7" fill="#aeb0b3" stroke="#aeb0b3" stroke-width="0.25" font-size="11" text-anchor="middle" textLength="24.9" lengthAdjust="spacingAndGlyphs">22:30</text>
<text x="221.8" y="573.7" fill="#aeb0b3" stroke="#aeb0b3" stroke-width="0.25" font-size="11" text-anchor="middle" textLength="24.9" lengthAdjust="spacingAndGlyphs">23:00</text>
<text x="277.7" y="573.7" fill="#aeb0b3" stroke="#aeb0b3" stroke-width="0.25" font-size="11" text-anchor="middle" textLength="24.9" lengthAdjust="spacingAndGlyphs">23:30</text>
<text x="333.6" y="573.7" fill="#aeb0b3" stroke="#aeb0b3" stroke-width="0.25" font-size="11" text-anchor="middle" textLength="24.9" lengthAdjust="spacingAndGlyphs">00:00</text>
<text x="389.5" y="573.7" fill="#aeb0b3" stroke="#aeb0b3" stroke-width="0.25" font-size="11" text-anchor="middle" textLength="24.9" lengthAdjust="spacingAndGlyphs">00:30</text>
<text x="445.5" y="573.7" fill="#aeb0b3" stroke="#aeb0b3" stroke-width="0.25" font-size="11" text-anchor="middle" textLength="24.9" lengthAdjust="spacingAndGlyphs">01:00</text>
<text x="501.4" y="573.7" fill="#aeb0b3" stroke="#aeb0b3" stroke-width="0.25" font-size="11" text-anchor="middle" textLength="24.9" lengthAdjust="spacingAndGlyphs">01:30</text>
<text x="557.3" y="573.7" fill="#aeb0b3" stroke="#aeb0b3" stroke-width="0.25" font-size="11" text-anchor="middle" textLength="24.9" lengthAdjust="spacingAndGlyphs">02:00</text>
<text x="613.2" y="573.7" fill="#aeb0b3" stroke="#aeb0b3" stroke-width="0.25" font-size="11" text-anchor="middle" textLength="24.9" lengthAdjust="spacingAndGlyphs">02:30</text>
<text x="669.2" y="573.7" fill="#aeb0b3" stroke="#aeb0b3" stroke-width="0.25" font-size="11" text-anchor="middle" textLength="24.9" lengthAdjust="spacingAndGlyphs">03:00</text>
<text x="725.1" y="573.7" fill="#aeb0b3" stroke="#aeb0b3" stroke-width="0.25" font-size="11" text-anchor="middle" textLength="24.9" lengthAdjust="spacingAndGlyphs">03:30</text>
<text x="781.0" y="573.7" fill="#aeb0b3" stroke="#aeb0b3" stroke-width="0.25" font-size="11" text-anchor="middle" textLength="24.9" lengthAdjust="spacingAndGlyphs">04:00</text>
<text x="54.3" y="92.3" fill="#b0b2b5" stroke="#b0b2b5" stroke-width="0.25" font-size="11" text-anchor="start" textLength="19.8" lengthAdjust="spacingAndGlyphs">SPX[</text>
<text x="74.4" y="92.0" fill="#b0b2b5" font-size="10.5" text-anchor="start">标普</text>
<text x="96.3" y="92.3" fill="#b0b2b5" stroke="#b0b2b5" stroke-width="0.25" font-size="11" text-anchor="start" textLength="17.6" lengthAdjust="spacingAndGlyphs">500]</text>
<text x="119.3" y="92.3" fill="#3f9fc4" stroke="#3f9fc4" stroke-width="0.25" font-size="11" text-anchor="start" textLength="24.9" lengthAdjust="spacingAndGlyphs">00:17</text>
<text x="148.7" y="92.0" fill="#b0b2b5" font-size="10.4" text-anchor="start">价</text>
<text x="164.0" y="92.3" fill="#20a64c" stroke="#20a64c" stroke-width="0.25" font-size="11" text-anchor="start" textLength="36.2" lengthAdjust="spacingAndGlyphs">6709.23</text>
<text x="205.4" y="92.0" fill="#b0b2b5" font-size="10.4" text-anchor="start">涨跌</text>
<text x="231.4" y="92.3" fill="#20a64c" stroke="#20a64c" stroke-width="0.25" font-size="11" text-anchor="start" textLength="68.0" lengthAdjust="spacingAndGlyphs">-30.79(-0.46%)</text>
<text x="304.6" y="92.0" fill="#b0b2b5" font-size="10.3" text-anchor="start">成交金额</text>
<text x="350.3" y="92.3" fill="#b0b2b5" stroke="#b0b2b5" stroke-width="0.25" font-size="11" text-anchor="start" textLength="5.7" lengthAdjust="spacingAndGlyphs">0</text>
<text x="780.6" y="92.3" fill="#cfd0d2" stroke="#cfd0d2" stroke-width="0.25" font-size="11" text-anchor="end" textLength="53.5" lengthAdjust="spacingAndGlyphs">2026/03/10</text>
<rect x="814" y="84.3" width="10.2" height="8" fill="none" stroke="#8d9097" stroke-width="1"/>
<path d="M816.3 86.6h5.6v3h-5.6zM817 94.2h4.4" stroke="#8d9097" stroke-width="0.9" fill="none"/>
<path d="M781.2 374.3L784.6 370.2V361H828V386.8H784.6V378.4z" fill="#f59b1e"/>
<text x="788.8" y="371.6" fill="#6a3400" stroke="#6a3400" stroke-width="0.25" font-size="10.5" text-anchor="start" textLength="31.5" lengthAdjust="spacingAndGlyphs">NYMEX</text>
<text x="788.8" y="384.2" fill="#6a3400" stroke="#6a3400" stroke-width="0.25" font-size="10.5" text-anchor="start" textLength="14.5" lengthAdjust="spacingAndGlyphs">WTI</text>
<text x="803.9" y="383.9" fill="#6a3400" font-size="10" text-anchor="start">原油</text>
<defs><linearGradient id="tg" x1="0" x2="1" y1="0" y2="0"><stop offset="0" stop-color="#1f9fd6" stop-opacity="0"/><stop offset="1" stop-color="#28b4e6" stop-opacity="0.95"/></linearGradient><linearGradient id="sq" x1="0" x2="1" y1="0" y2="1"><stop offset="0" stop-color="#38bdf0"/><stop offset="1" stop-color="#1c8fd2"/></linearGradient></defs>
<path d="M735 470.2L763.5 464.5V478L750 474z" fill="url(#tg)" opacity="0.6"/>
<path d="M738 470.6L763.5 470.5V474.2z" fill="url(#tg)" opacity="0.8"/>
<rect x="763" y="463" width="16.5" height="16" rx="1.2" fill="url(#sq)"/>
</g></g>
<text x="253" y="44.5" fill="#000" font-size="36" font-weight="700" text-anchor="start" textLength="324" lengthAdjust="spacing" style="font-family:'Liberation Sans','Noto Sans CJK SC',sans-serif">原油暴跌、美股拉升</text>
<text x="470" y="625.5" fill="#000" font-size="24" font-weight="700" text-anchor="start" textLength="120" lengthAdjust="spacing" style="font-family:'Liberation Sans','Noto Sans CJK SC',sans-serif">数据来源：</text>
<text x="590" y="625.1" fill="#000" font-size="24" font-weight="700" text-anchor="start" textLength="48" lengthAdjust="spacingAndGlyphs" style="font-family:'Liberation Mono',monospace">Wind</text>
<text x="638" y="625.5" fill="#000" font-size="24" font-weight="700" text-anchor="start" textLength="192" lengthAdjust="spacing" style="font-family:'Liberation Sans','Noto Sans CJK SC',sans-serif">，星图金融研究院</text>
</svg>
</body></html>
